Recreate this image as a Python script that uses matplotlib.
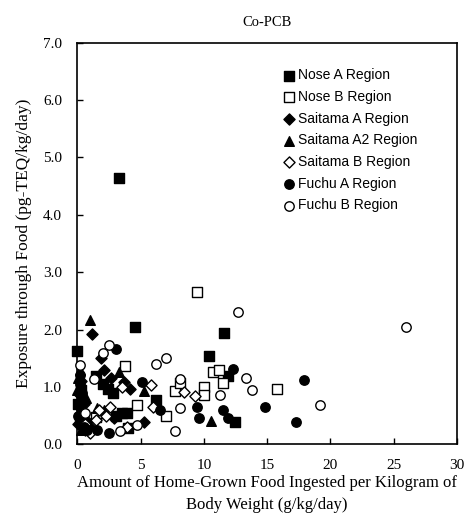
import numpy as np
from matplotlib import pyplot as plt

# values (x: g/kg/day, y: pg-TEQ/kg/day)
nose_a_x = [3.3, 4.6, 11.6, 10.4, 0.0, 1.5, 2.4, 2.8, 6.2, 3.1, 3.9, 4.0, 12.5, 11.9, 3.5, 0.3, 0.2, 0.5, 0.1, 2.0]
nose_a_y = [4.65, 2.04, 1.94, 1.54, 1.62, 1.19, 0.96, 0.90, 0.77, 0.49, 0.54, 0.28, 0.38, 1.19, 0.55, 0.95, 0.45, 0.30, 0.70, 1.05]

nose_b_x = [9.5, 15.8, 3.8, 4.7, 7.0, 7.7, 8.1, 10.0, 10.0, 10.7, 11.2, 11.5, 1.5, 2.0]
nose_b_y = [2.65, 0.96, 1.36, 0.68, 0.50, 0.93, 1.06, 1.00, 0.86, 1.26, 1.30, 1.07, 0.47, 0.55]

saitama_a_x = [1.2, 1.9, 2.1, 2.7, 3.7, 4.2, 5.3, 2.9, 0.2, 0.4, 0.1, 0.6, 0.3, 0.8, 1.0, 0.5]
saitama_a_y = [1.93, 1.51, 1.30, 1.16, 1.08, 0.96, 0.38, 0.45, 0.85, 0.60, 0.35, 0.25, 1.10, 0.40, 0.30, 0.70]

saitama_a2_x = [1.0, 3.3, 5.3, 10.6, 0.7, 1.6, 0.2, 0.1, 0.4, 0.3, 0.0, 2.1]
saitama_a2_y = [2.16, 1.26, 0.92, 0.40, 0.80, 0.63, 1.30, 1.15, 0.50, 0.25, 0.95, 0.60]

saitama_b_x = [3.5, 5.8, 6.0, 8.4, 9.3, 1.7, 2.3, 1.5, 1.0, 3.9, 0.6, 2.6]
saitama_b_y = [1.00, 1.03, 0.65, 0.91, 0.84, 0.60, 0.50, 0.42, 0.20, 0.30, 0.35, 0.65]

fuchu_a_x = [3.1, 5.1, 6.5, 9.5, 9.6, 12.3, 11.5, 11.9, 2.5, 1.6, 14.8, 17.9, 17.3, 0.2, 0.3, 0.1, 0.5, 0.4, 0.8, 0.2]
fuchu_a_y = [1.66, 1.08, 0.60, 0.65, 0.45, 1.31, 0.60, 0.45, 0.19, 0.25, 0.65, 1.12, 0.38, 1.05, 0.75, 0.50, 0.30, 0.90, 0.25, 1.20]

fuchu_b_x = [26.0, 12.7, 13.3, 13.8, 11.3, 19.2, 6.2, 7.0, 2.5, 2.0, 1.3, 8.1, 8.1, 7.7, 4.7, 3.4, 0.2, 0.6]
fuchu_b_y = [2.05, 2.31, 1.15, 0.94, 0.85, 0.68, 1.40, 1.50, 1.73, 1.59, 1.13, 1.13, 0.63, 0.23, 0.33, 0.23, 1.38, 0.55]

x_ticks = [0, 5, 10, 15, 20, 25, 30]
y_ticks = [0, 1, 2, 3, 4, 5, 6, 7]

series = [
    ("Nose A Region", nose_a_x, nose_a_y, "s", "black"),
    ("Nose B Region", nose_b_x, nose_b_y, "s", "white"),
    ("Saitama A Region", saitama_a_x, saitama_a_y, "D", "black"),
    ("Saitama A2 Region", saitama_a2_x, saitama_a2_y, "^", "black"),
    ("Saitama B Region", saitama_b_x, saitama_b_y, "D", "white"),
    ("Fuchu A Region", fuchu_a_x, fuchu_a_y, "o", "black"),
    ("Fuchu B Region", fuchu_b_x, fuchu_b_y, "o", "white"),
]
sizes = {"s": 42, "D": 32, "^": 48, "o": 46}

serif = "Liberation Serif"
fig = plt.figure(figsize=(4.65, 5.22), dpi=100)
ax = fig.add_axes([0.166, 0.149, 0.817, 0.769])

for label, xs, ys, m, fc in series:
    ax.scatter(xs, ys, marker=m, s=sizes[m], facecolor=fc, edgecolor="black",
               linewidths=1.0, label=label, zorder=3, clip_on=False)

ax.set_xlim(0, 30)
ax.set_ylim(0, 7)
ax.set_xticks(x_ticks)
ax.set_yticks(y_ticks)
ax.set_xticklabels([str(t) for t in x_ticks], fontfamily=serif, fontsize=11)
ax.set_yticklabels([f"{t:.1f}" for t in y_ticks], fontfamily=serif, fontsize=11)
ax.tick_params(direction="in", length=4, width=1, pad=11)
for sp in ax.spines.values():
    sp.set_linewidth(1.2)

ax.set_title("Co-PCB", fontfamily=serif, fontsize=10.5, pad=12)
ax.set_xlabel("Amount of Home-Grown Food Ingested per Kilogram of\nBody Weight (g/kg/day)",
              fontfamily=serif, fontsize=12, linespacing=1.5, labelpad=2)
ax.set_ylabel("Exposure through Food (pg-TEQ/kg/day)", fontfamily=serif, fontsize=12.5, labelpad=8)

leg = ax.legend(loc="upper left", bbox_to_anchor=(0.52, 0.95), frameon=False,
                prop={"family": "Liberation Sans", "size": 10},
                handletextpad=0.1, labelspacing=0.55, borderaxespad=0, handlelength=1.2,
                scatterpoints=1)

fig.savefig("out.png", dpi=100)
